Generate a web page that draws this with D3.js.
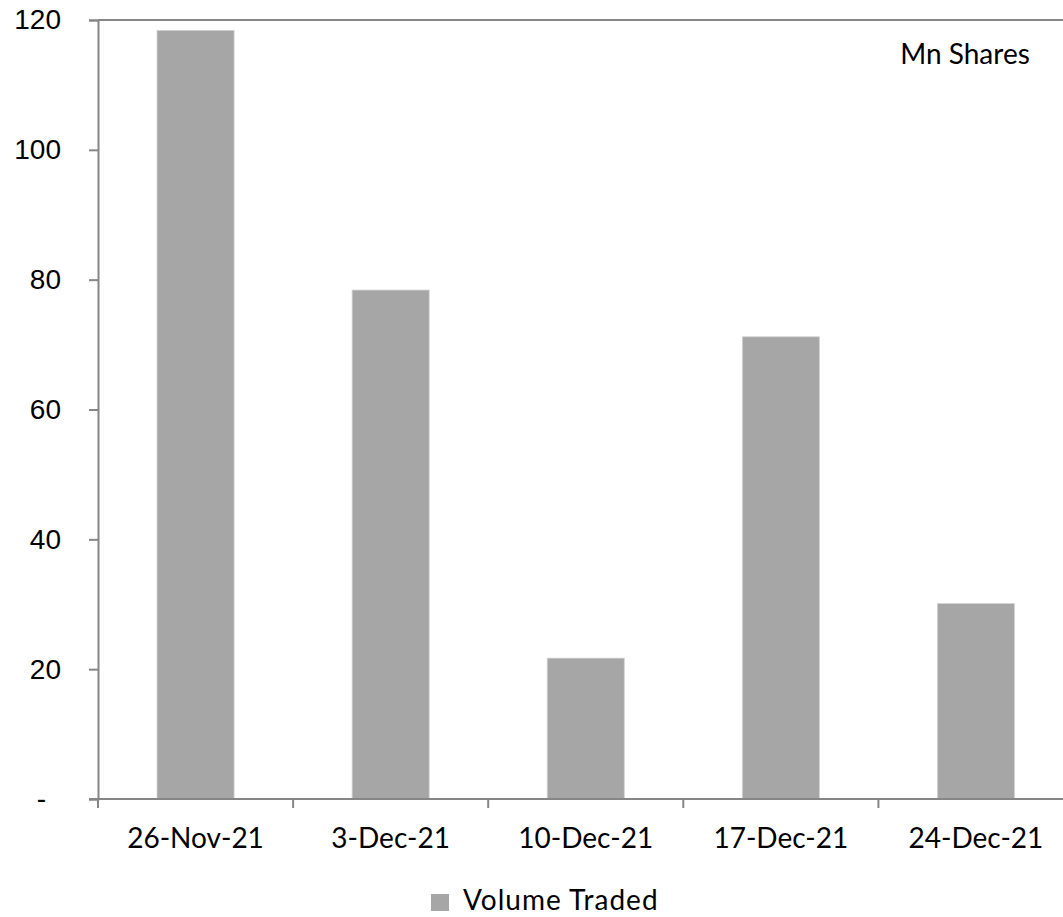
<!DOCTYPE html>
<html>
<head>
<meta charset="utf-8">
<script src="https://cdn.jsdelivr.net/npm/d3@7"></script>
<style>
  html, body { margin: 0; padding: 0; background: #fff; }
  svg { display: block; font-family: Lato, "Open Sans", sans-serif; }
</style>
</head>
<body>
<svg id="chart" width="1063" height="917"></svg>
<script>
// Weekly traded volume, million shares
const categories = ["26-Nov-21", "3-Dec-21", "10-Dec-21", "17-Dec-21", "24-Dec-21"];
const volumeTraded = [118.4, 78.4, 21.7, 71.2, 30.1];
const yTickValues = [0, 20, 40, 60, 80, 100, 120];
const yTickLabels = ["-", "20", "40", "60", "80", "100", "120"];
const seriesName = "Volume Traded";
const unitLabel = "Mn Shares";

const svg = d3.select("#chart");
const axisColor = "#868686";
const barColor = "#a6a6a6";
const fontSize = 28;

const plotLeft = 98, plotBottom = 799, plotTop = 20;
const step = 195.1;
const plotRight = plotLeft + step * categories.length; // plot runs past the page edge

const x = d3.scaleBand()
  .domain(categories)
  .range([plotLeft, plotRight])
  .paddingInner(0.605)
  .paddingOuter(0.3025);

const y = d3.scaleLinear().domain([0, 120]).range([plotBottom, plotTop]);

// Bars
svg.append("g")
  .selectAll("rect")
  .data(volumeTraded)
  .join("rect")
  .attr("x", (d, i) => x(categories[i]))
  .attr("y", d => y(d))
  .attr("width", x.bandwidth())
  .attr("height", d => y(0) - y(d))
  .attr("fill", barColor)
  .attr("stroke", "#d2d2d2")
  .attr("stroke-width", 0.8);

// Y axis
const yAxis = svg.append("g").attr("transform", `translate(${plotLeft},0)`)
  .call(d3.axisLeft(y).tickValues(yTickValues).tickSize(9).tickPadding(28)
    .tickFormat((d, i) => yTickLabels[i]));
yAxis.select(".domain").attr("stroke", axisColor).attr("stroke-width", 2);
yAxis.selectAll(".tick line").attr("stroke", axisColor).attr("stroke-width", 2);
yAxis.selectAll(".tick text")
  .attr("fill", "#000")
  .style("font-size", fontSize + "px")
  .attr("dx", d => d === 0 ? -15 : 0);

// Top line at the axis maximum
svg.append("line")
  .attr("x1", plotLeft).attr("x2", 1063)
  .attr("y1", y(120)).attr("y2", y(120))
  .attr("stroke", axisColor).attr("stroke-width", 2);

// X axis with ticks on category boundaries
const xg = svg.append("g");
xg.append("line")
  .attr("x1", plotLeft - 9).attr("x2", 1063)
  .attr("y1", plotBottom).attr("y2", plotBottom)
  .attr("stroke", axisColor).attr("stroke-width", 2);
const boundaries = d3.range(categories.length + 1).map(i => plotLeft + i * x.step());
xg.selectAll("line.tick")
  .data(boundaries)
  .join("line")
  .attr("class", "tick")
  .attr("x1", d => d).attr("x2", d => d)
  .attr("y1", plotBottom).attr("y2", plotBottom + 9)
  .attr("stroke", axisColor).attr("stroke-width", 2);
xg.selectAll("text")
  .data(categories)
  .join("text")
  .attr("x", d => x(d) + x.bandwidth() / 2)
  .attr("y", 848)
  .attr("text-anchor", "middle")
  .style("font-size", fontSize + "px")
  .attr("fill", "#000")
  .text(d => d);

// Unit label
svg.append("text")
  .attr("x", 965).attr("y", 64)
  .attr("text-anchor", "middle")
  .style("font-size", fontSize + "px")
  .attr("fill", "#000")
  .text(unitLabel);

// Legend
const lg = svg.append("g");
lg.append("rect")
  .attr("x", 431).attr("y", 894).attr("width", 18).attr("height", 17)
  .attr("fill", barColor);
lg.append("text")
  .attr("x", 463).attr("y", 910)
  .style("font-size", fontSize + "px")
  .style("letter-spacing", "1px")
  .attr("fill", "#000")
  .text(seriesName);
</script>
</body>
</html>
